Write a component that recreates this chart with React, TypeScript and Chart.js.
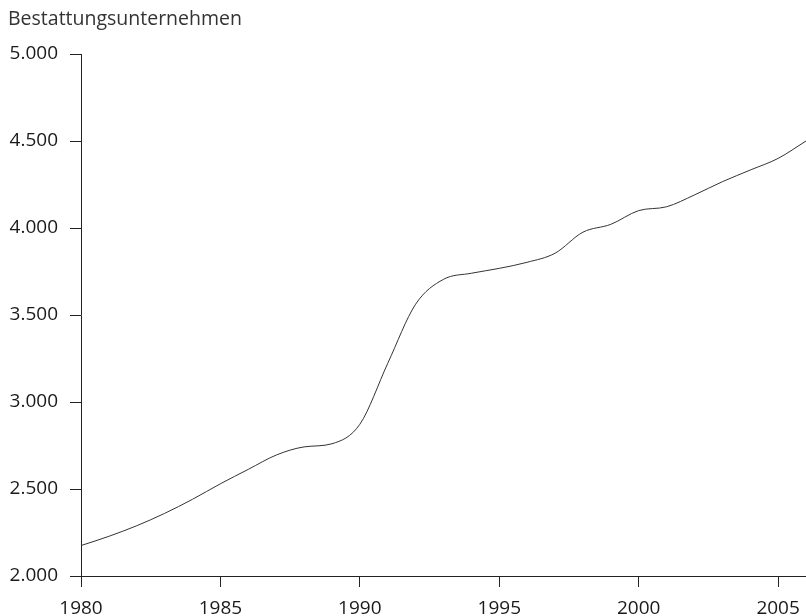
import { useEffect, useRef } from "react";
import { Chart, registerables } from "chart.js";

Chart.register(...registerables);

const chartTitle = "Bestattungsunternehmen";
const years = [1980, 1981, 1982, 1983, 1984, 1985, 1986, 1987, 1988, 1989, 1990, 1991, 1992, 1993, 1994, 1995, 1996, 1997, 1998, 1999, 2000, 2001, 2002, 2003, 2004, 2005, 2006];
const undertakers = [2175, 2228, 2289, 2360, 2441, 2530, 2613, 2695, 2742, 2760, 2872, 3222, 3562, 3705, 3740, 3768, 3803, 3855, 3976, 4021, 4100, 4122, 4190, 4266, 4333, 4400, 4500];
const xTickValues = [1980, 1985, 1990, 1995, 2000, 2005];
const yTickValues = [2000, 2500, 3000, 3500, 4000, 4500, 5000];

const fontFamily = "'Open Sans', 'Noto Sans', sans-serif";

function formatDe(v: number): string {
  return Math.round(v).toString().replace(/\B(?=(\d{3})+(?!\d))/g, ".");
}

const titlePlugin = {
  id: "leftTitle",
  afterDraw(chart: any) {
    const ctx = chart.ctx;
    ctx.save();
    ctx.font = `19.5px ${fontFamily}`;
    ctx.fillStyle = "#333333";
    ctx.textAlign = "left";
    ctx.textBaseline = "alphabetic";
    ctx.fillText(chartTitle, 8, 25);
    ctx.restore();
  },
};

export default function App() {
  const canvasRef = useRef<HTMLCanvasElement | null>(null);

  useEffect(() => {
    if (!canvasRef.current) return;
    const chart = new Chart(canvasRef.current, {
      type: "line",
      data: {
        datasets: [
          {
            data: years.map((y, i) => ({ x: y, y: undertakers[i] })),
            borderColor: "#333333",
            borderWidth: 1,
            pointRadius: 0,
            fill: false,
            cubicInterpolationMode: "monotone",
          },
        ],
      },
      options: {
        animation: false,
        responsive: false,
        maintainAspectRatio: false,
        layout: { padding: { top: 54, right: 0, left: 0, bottom: 0 } },
        plugins: {
          legend: { display: false },
          tooltip: { enabled: false },
          title: { display: false },
        },
        scales: {
          x: {
            type: "linear",
            min: 1980,
            max: 2006,
            afterFit(scale: any) {
              scale.height = 40;
              scale.paddingRight = 0;
              scale.paddingLeft = 0;
            },
            afterBuildTicks(scale: any) {
              scale.ticks = xTickValues.map((v) => ({ value: v }));
            },
            ticks: {
              autoSkip: false,
              maxRotation: 0,
              padding: 10,
              color: "#1a1a1a",
              font: { family: fontFamily, size: 19 },
              callback: (v: any) => String(v),
            },
            grid: {
              display: true,
              drawOnChartArea: false,
              drawTicks: true,
              tickLength: 11,
              color: "#222222",
              lineWidth: 1,
            },
            border: { display: true, color: "#222222", width: 1 },
          },
          y: {
            type: "linear",
            min: 2000,
            max: 5000,
            afterFit(scale: any) {
              scale.width = 81;
            },
            afterBuildTicks(scale: any) {
              scale.ticks = yTickValues.map((v) => ({ value: v }));
            },
            ticks: {
              autoSkip: false,
              padding: 12,
              color: "#1a1a1a",
              font: { family: fontFamily, size: 19 },
              callback: (v: any) => formatDe(Number(v)),
            },
            grid: {
              display: true,
              drawOnChartArea: false,
              drawTicks: true,
              tickLength: 11,
              color: "#222222",
              lineWidth: 1,
            },
            border: { display: true, color: "#222222", width: 1 },
          },
        },
      },
      plugins: [titlePlugin],
    } as any);
    return () => chart.destroy();
  }, []);

  return (
    <div style={{ position: "absolute", left: 0, top: 0, width: 806, height: 616, background: "#ffffff" }}>
      <canvas ref={canvasRef} width={806} height={616} style={{ display: "block" }} />
    </div>
  );
}
